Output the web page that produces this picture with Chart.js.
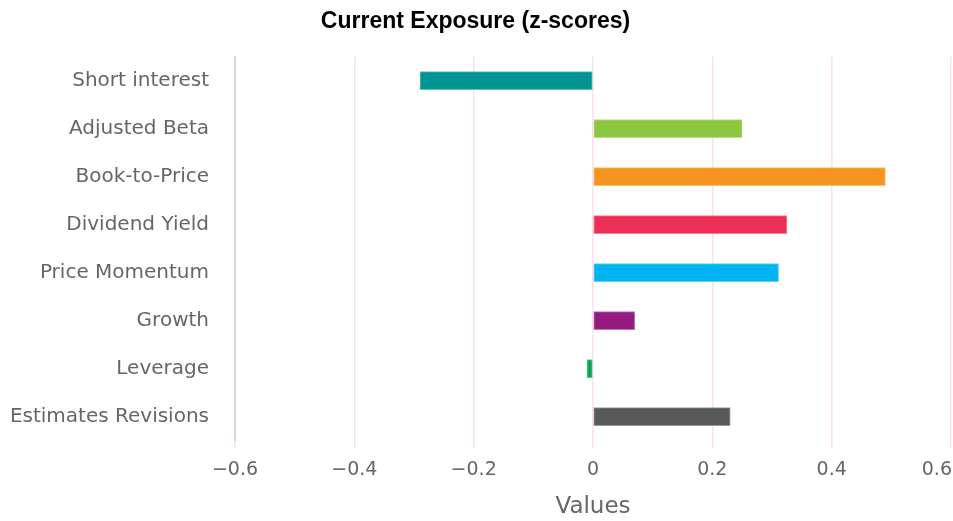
<!DOCTYPE html>
<html>
<head>
<meta charset="utf-8">
<script src="https://cdn.jsdelivr.net/npm/chart.js@4.4.1/dist/chart.umd.min.js"></script>
<style>
  html, body { margin: 0; padding: 0; background: #ffffff; }
  #wrap { width: 953px; height: 521px; position: relative; }
</style>
</head>
<body>
<div id="wrap"><canvas id="c"></canvas></div>
<script>
const categories = ["Short interest", "Adjusted Beta", "Book-to-Price", "Dividend Yield", "Price Momentum", "Growth", "Leverage", "Estimates Revisions"];
const exposures = [-0.29, 0.25, 0.49, 0.325, 0.311, 0.07, -0.01, 0.23];
const barColors = ["#009593", "#8dc63f", "#f7941d", "#ee2e55", "#00b5ef", "#951b81", "#00a651", "#58595b"];
const xTicks = [-0.6, -0.4, -0.2, 0, 0.2, 0.4, 0.6];

const lastLabelPlugin = {
  id: 'lastLabelAlign',
  beforeDraw(chart) {
    const sx = chart.scales.x;
    const items = sx.getLabelItems(chart.chartArea);
    if (items.length) {
      const it = items[items.length - 1];
      it.options.textAlign = 'right';
      it.options.translation[0] = chart.chartArea.right + 1;
    }
  }
};

new Chart(document.getElementById('c'), {
  type: 'bar',
  data: {
    labels: categories,
    datasets: [{
      data: exposures,
      backgroundColor: barColors,
      borderColor: barColors.map(c => c + '99'),
      borderWidth: 1,
      borderSkipped: false,
      barThickness: 18
    }]
  },
  plugins: [lastLabelPlugin],
  options: {
    indexAxis: 'y',
    responsive: true,
    maintainAspectRatio: false,
    animation: false,
    layout: { padding: { left: 0, right: 2, top: 0, bottom: 0 } },
    plugins: {
      legend: { display: false },
      tooltip: { enabled: false },
      title: {
        display: true,
        text: 'Current Exposure (z-scores)',
        color: '#000000',
        font: { family: 'Liberation Sans, Arial, sans-serif', size: 23, weight: 'bold' },
        padding: { top: 8, bottom: 21 }
      }
    },
    scales: {
      x: {
        type: 'linear',
        min: -0.6,
        max: 0.6,
        afterBuildTicks: s => { s.ticks = xTicks.map(v => ({ value: v })); },
        afterFit: s => { s.paddingRight = 0; },
        border: { display: false },
        grid: { color: '#fbe1ea', lineWidth: 1.5, tickLength: 8, drawTicks: true },
        ticks: {
          color: '#666666',
          padding: 10,
          font: { family: 'DejaVu Sans, sans-serif', size: 19 },
          callback: v => (v < 0 ? '\u2212' + Math.abs(v) : String(v))
        },
        title: {
          display: true,
          text: 'Values',
          color: '#666666',
          font: { family: 'DejaVu Sans, sans-serif', size: 23 },
          padding: { top: 2, bottom: 0 }
        }
      },
      y: {
        afterFit: s => { s.width = 235; },
        border: { display: true, color: '#d0d8ef', width: 2 },
        grid: { display: false, drawTicks: false },
        ticks: {
          color: '#666666',
          padding: 26,
          font: { family: 'DejaVu Sans, sans-serif', size: 20 }
        }
      }
    }
  }
});
</script>
</body>
</html>
